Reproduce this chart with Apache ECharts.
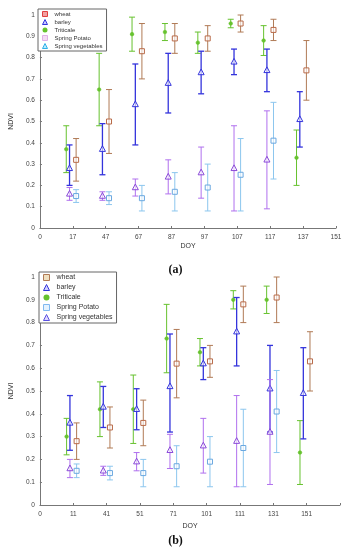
<!DOCTYPE html>
<html>
<head>
<meta charset="utf-8">
<script src="https://cdn.jsdelivr.net/npm/echarts@6/dist/echarts.min.js"></script>
<style>html,body{margin:0;padding:0;background:#fff}#c{width:351px;height:550px}</style>
</head>
<body>
<div id="c"></div>
<script>
// ---------- tick labels (DOY) ----------
var doyA = ['0','17','47','67','87','97','107','117','137','151'];
var doyB = ['0','11','41','51','71','101','111','131','151',''];
var yTicks = [0,0.1,0.2,0.3,0.4,0.5,0.6,0.7,0.8,0.9,1];

// ---------- panel (a): values at DOY 17,47,67,87,97,107,117,137 ----------
var wheatA_mean = [0.32,0.50,0.83,0.89,0.89,0.96,0.93,0.74];
var wheatA_low  = [0.22,0.35,0.70,0.82,0.83,0.92,0.88,0.60];
var wheatA_high = [0.42,0.65,0.96,0.96,0.95,1.00,0.98,0.88];
var barleyA_mean = [0.28,0.37,0.58,0.68,0.73,0.78,0.74,0.51];
var barleyA_low  = [0.20,0.25,0.39,0.54,0.63,0.72,0.64,0.38];
var barleyA_high = [0.39,0.49,0.77,0.82,0.83,0.84,0.84,0.64];
var tritA_mean = [0.37,0.65,0.91,0.92,0.87,0.96,0.88,0.33];
var tritA_low  = [0.26,0.48,0.83,0.88,0.82,0.94,0.81,0.20];
var tritA_high = [0.48,0.82,0.99,0.96,0.92,0.98,0.95,0.46];
var potatoA_mean = [0.16,0.15,0.19,0.24,0.26,0.28,0.32,null];
var potatoA_low  = [0.13,0.13,0.15,0.16,0.14,0.08,0.09,null];
var potatoA_high = [0.19,0.17,0.23,0.32,0.38,0.48,0.55,null];
var vegA_mean = [0.15,0.14,0.14,0.17,0.19,0.25,0.41,null];
var vegA_low  = [0.12,0.11,0.08,0.08,0.08,0.08,0.23,null];
var vegA_high = [0.18,0.17,0.20,0.26,0.30,0.42,0.59,null];

// ---------- panel (b): values at DOY 11,41,51,71,101,111,131,151 ----------
var wheatB_mean = [0.28,0.34,0.36,0.62,0.63,0.88,0.91,0.63];
var wheatB_low  = [0.20,0.25,0.26,0.47,0.56,0.80,0.80,0.50];
var wheatB_high = [0.36,0.43,0.46,0.77,0.70,0.96,1.00,0.76];
var barleyB_mean = [0.36,0.43,0.42,0.52,0.62,0.76,0.51,0.49];
var barleyB_low  = [0.24,0.34,0.33,0.32,0.55,0.61,0.32,0.29];
var barleyB_high = [0.48,0.52,0.51,0.75,0.69,0.91,0.70,0.69];
var tritB_mean = [0.30,0.42,0.42,0.73,0.67,0.90,0.90,0.23];
var tritB_low  = [0.22,0.30,0.27,0.58,0.61,0.86,0.84,0.09];
var tritB_high = [0.38,0.54,0.57,0.88,0.73,0.94,0.96,0.37];
var potatoB_mean = [0.15,0.14,0.14,0.17,0.19,0.25,0.41,null];
var potatoB_low  = [0.12,0.11,0.08,0.08,0.08,0.08,0.23,null];
var potatoB_high = [0.18,0.17,0.20,0.26,0.30,0.42,0.59,null];
var vegB_mean = [0.16,0.15,0.19,0.24,0.26,0.28,0.32,null];
var vegB_low  = [0.12,0.13,0.15,0.16,0.14,0.08,0.09,null];
var vegB_high = [0.20,0.17,0.23,0.31,0.38,0.48,0.55,null];

// ---------- styles ----------
var C = {wheat:'#b07a55', wheatMk:'#b86a48', barley:'#3434dc', trit:'#66c22e', potato:'#b070ee', veg:'#8cc6ee'};
var OFF = {left:-0.2, mid:-0.1, right:0.1};

function errSeries(name, grid, off, mean, low, high, color, mkColor, shape, lw) {
  var data = [];
  for (var i = 0; i < mean.length; i++) {
    if (mean[i] == null) continue;
    data.push([i + 1 + off, mean[i], low[i], high[i]]);
  }
  return {
    type: 'custom', name: name, xAxisIndex: grid, yAxisIndex: grid,
    itemStyle: {color: color},
    encode: {x: 0, y: [1, 2, 3]},
    data: data, z: 5,
    renderItem: function (params, api) {
      var x = api.value(0);
      var pm = api.coord([x, api.value(1)]);
      var pl = api.coord([x, api.value(2)]);
      var ph = api.coord([x, api.value(3)]);
      var cw = 3;
      var st = {stroke: color, lineWidth: lw, fill: null};
      var ch = [
        {type:'line', shape:{x1:pl[0], y1:pl[1], x2:ph[0], y2:ph[1]}, style:st},
        {type:'line', shape:{x1:pl[0]-cw, y1:pl[1], x2:pl[0]+cw, y2:pl[1]}, style:st},
        {type:'line', shape:{x1:ph[0]-cw, y1:ph[1], x2:ph[0]+cw, y2:ph[1]}, style:st}
      ];
      var mst = {stroke: mkColor, lineWidth: 1, fill: 'rgba(255,255,255,0.6)'};
      if (shape === 'square') {
        ch.push({type:'rect', shape:{x:pm[0]-2.5, y:pm[1]-2.5, width:5, height:5}, style:mst});
      } else if (shape === 'triangle') {
        ch.push({type:'polygon', shape:{points:[[pm[0], pm[1]-3.5],[pm[0]-3, pm[1]+2.2],[pm[0]+3, pm[1]+2.2]]}, style:mst});
      } else {
        ch.push({type:'circle', shape:{cx:pm[0], cy:pm[1], r:1.8}, style:{fill: mkColor, stroke: mkColor, lineWidth:0.6}});
      }
      return {type:'group', children: ch};
    }
  };
}

function xAxisOf(grid, labels) {
  return {
    type:'value', gridIndex: grid, min:0, max:9, interval:1,
    name:'DOY', nameLocation:'middle', nameGap: grid === 0 ? 15 : 18,
    nameTextStyle:{fontSize:7, color:'#333', fontFamily:'Liberation Sans'},
    axisLine:{lineStyle:{color:'#777', width:1}},
    axisTick:{inside:true, length:2, lineStyle:{color:'#777'}},
    splitLine:{show:false},
    axisLabel:{fontSize:6.5, color:'#444', margin:6, fontFamily:'Liberation Sans',
      formatter: function (v) { return labels[Math.round(v)] || ''; }}
  };
}
function yAxisOf(grid) {
  return {
    type:'value', gridIndex: grid, min:0, max:1, interval:0.1,
    name:'NDVI', nameLocation:'middle', nameGap:14,
    nameTextStyle:{fontSize:7, color:'#333', fontFamily:'Liberation Sans'},
    axisLine:{show:true, lineStyle:{color:'#777', width:1}},
    axisTick:{show:true, inside:true, length:2, lineStyle:{color:'#777'}},
    splitLine:{show:false},
    axisLabel:{fontSize:6.5, color:'#444', margin:5, fontFamily:'Liberation Sans',
      formatter: function (v) { var t = Math.round(v*10)/10; return yTicks.indexOf(t) >= 0 ? String(t) : ''; }}
  };
}

var legendA = [
  {name:'wheat', icon:'rect', itemStyle:{color:'#f2a0a0', borderColor:'#e04040', borderWidth:1}},
  {name:'barley', icon:'triangle', itemStyle:{color:'#c8c8ff', borderColor:C.barley, borderWidth:1}},
  {name:'Triticale', icon:'circle', itemStyle:{color:C.trit, borderColor:C.trit}},
  {name:'Spring Potato', icon:'rect', itemStyle:{color:'#f4dcf4', borderColor:'#e0b0e8', borderWidth:1}},
  {name:'Spring vegetables', icon:'triangle', itemStyle:{color:'#b8eaff', borderColor:'#30b0e8', borderWidth:1}}
];
var legendB = [
  {name:'wheat', icon:'rect', itemStyle:{color:'#f0e0c0', borderColor:C.wheat, borderWidth:1}},
  {name:'barley', icon:'triangle', itemStyle:{color:'#d0d0ff', borderColor:C.barley, borderWidth:1}},
  {name:'Triticale', icon:'circle', itemStyle:{color:C.trit, borderColor:C.trit}},
  {name:'Spring Potato', icon:'rect', itemStyle:{color:'#e4f2ff', borderColor:'#80b8f0', borderWidth:1}},
  {name:'Spring vegetables', icon:'triangle', itemStyle:{color:'#e0d8ff', borderColor:'#5a50e0', borderWidth:1}}
];
function legendOf(items, left, top, fs, ih, gap, w) {
  return {
    data: items, orient:'vertical', left:left, top:top, width:w,
    itemWidth: ih, itemHeight: ih, itemGap: gap, padding:[2,4,2,4],
    borderColor:'#666', borderWidth:1, backgroundColor:'#fff',
    selectedMode:false,
    textStyle:{fontSize:fs, color:'#333', fontFamily:'Liberation Sans', padding:[0,0,0,2]}
  };
}

var series = [
  errSeries('Triticale', 0, OFF.left, tritA_mean, tritA_low, tritA_high, C.trit, C.trit, 'dot', 1),
  errSeries('barley', 0, OFF.mid, barleyA_mean, barleyA_low, barleyA_high, C.barley, C.barley, 'triangle', 1.3),
  errSeries('wheat', 0, OFF.right, wheatA_mean, wheatA_low, wheatA_high, C.wheat, C.wheatMk, 'square', 1),
  errSeries('Spring Potato', 0, OFF.mid, potatoA_mean, potatoA_low, potatoA_high, C.potato, '#8a4ad8', 'triangle', 1),
  errSeries('Spring vegetables', 0, OFF.right, vegA_mean, vegA_low, vegA_high, C.veg, '#6aa8e0', 'square', 1),

  errSeries('Triticale', 1, OFF.left, tritB_mean, tritB_low, tritB_high, C.trit, C.trit, 'dot', 1),
  errSeries('barley', 1, OFF.mid, barleyB_mean, barleyB_low, barleyB_high, C.barley, C.barley, 'triangle', 1.3),
  errSeries('wheat', 1, OFF.right, wheatB_mean, wheatB_low, wheatB_high, C.wheat, C.wheatMk, 'square', 1),
  errSeries('Spring vegetables', 1, OFF.mid, vegB_mean, vegB_low, vegB_high, C.potato, '#8a4ad8', 'triangle', 1),
  errSeries('Spring Potato', 1, OFF.right, potatoB_mean, potatoB_low, potatoB_high, C.veg, '#6aa8e0', 'square', 1)
];

var chart = echarts.init(document.getElementById('c'), null, {renderer:'canvas'});
chart.setOption({
  animation:false,
  backgroundColor:'#fff',
  title:[
    {text:'(a)', left:'center', top:259, textStyle:{fontSize:12, fontWeight:'bold', fontFamily:'Liberation Serif', color:'#111'}},
    {text:'(b)', left:'center', top:530, textStyle:{fontSize:12, fontWeight:'bold', fontFamily:'Liberation Serif', color:'#111'}}
  ],
  grid:[
    {left:32, right:15, top:15, height:213},
    {left:32, right:11, top:277, height:228}
  ],
  xAxis:[xAxisOf(0, doyA), xAxisOf(1, doyB)],
  yAxis:[yAxisOf(0), yAxisOf(1)],
  legend:[
    legendOf(legendA, 38, 9, 6, 5, 2, 64),
    legendOf(legendB, 39, 272, 7, 6, 3, 76)
  ],
  series: series
});
</script>
</body>
</html>
